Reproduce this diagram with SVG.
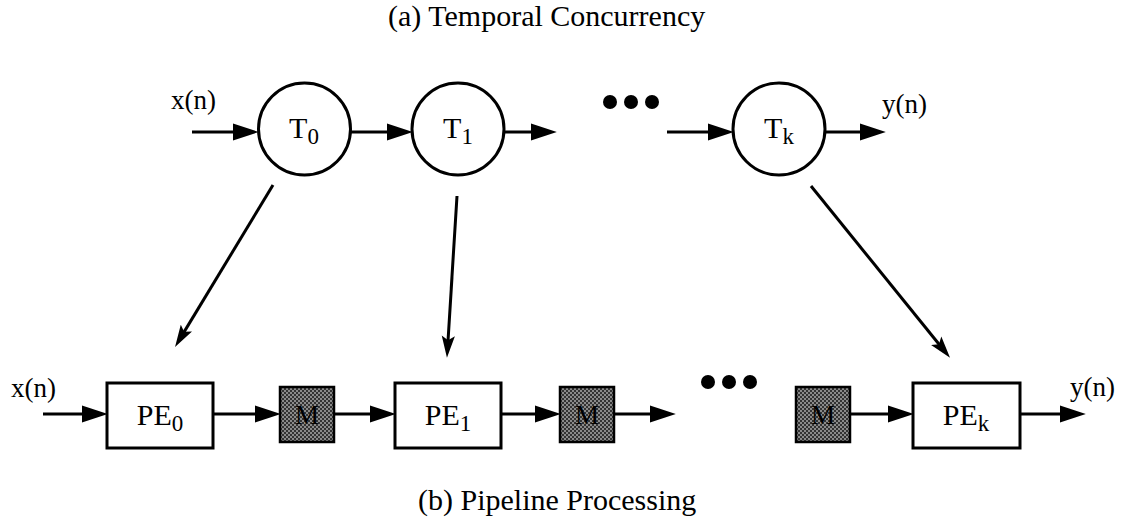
<svg xmlns="http://www.w3.org/2000/svg" width="1122" height="527" viewBox="0 0 1122 527">
<style>
text{font-family:"Liberation Serif","Times New Roman",serif;fill:#000}
.title{font-size:30px}
.lbl{font-size:27px}
.nl{font-size:30px}
.sub{font-size:23px}
.node{fill:#fff;stroke:#000;stroke-width:3}
.mem{fill:url(#stip);stroke:#000;stroke-width:2.5}
.conn line{stroke:#000;stroke-width:3;fill:none}
.h{marker-end:url(#ah)}
.d{marker-end:url(#ad);stroke-width:2.6}
.dot{fill:#000}
</style>
<defs>
<pattern id="stip" width="4" height="4" patternUnits="userSpaceOnUse">
<rect width="4" height="4" fill="#8a8a8a"/>
<rect x="0" y="0" width="2" height="2" fill="#333"/>
<rect x="2" y="2" width="2" height="2" fill="#333"/>
</pattern>
<marker id="ah" markerUnits="userSpaceOnUse" markerWidth="26" markerHeight="18" viewBox="0 0 24 16" refX="14" refY="8" orient="auto">
<path d="M0,0 L24,8 L0,16 Z" fill="#000"/>
</marker>
<marker id="ad" markerUnits="userSpaceOnUse" markerWidth="22" markerHeight="14" viewBox="0 0 20 12" refX="12" refY="6" orient="auto">
<path d="M0,0 L20,6 L0,12 L4,6 Z" fill="#000"/>
</marker>
</defs>
<rect width="1122" height="527" fill="#fff"/>
<text class="title" x="388" y="26">(a) Temporal Concurrency</text>
<text class="title" x="418" y="510">(b) Pipeline Processing</text>
<g id="connectors" class="conn">
<line class="h" x1="192" y1="132" x2="248" y2="132"/>
<line class="h" x1="351" y1="132" x2="402" y2="132"/>
<line class="h" x1="504" y1="132" x2="546" y2="132"/>
<line class="h" x1="667" y1="132" x2="723" y2="132"/>
<line class="h" x1="825" y1="132" x2="875" y2="132"/>
<line class="d" x1="273" y1="185" x2="179.6" y2="339.4"/>
<line class="d" x1="457" y1="196" x2="447.5" y2="349"/>
<line class="d" x1="811" y1="186" x2="944.5" y2="351"/>
<line class="h" x1="43" y1="414" x2="97" y2="414"/>
<line class="h" x1="213" y1="414" x2="270" y2="414"/>
<line class="h" x1="334" y1="414" x2="385" y2="414"/>
<line class="h" x1="501" y1="414" x2="550" y2="414"/>
<line class="h" x1="614" y1="414" x2="665" y2="414"/>
<line class="h" x1="850" y1="414" x2="903" y2="414"/>
<line class="h" x1="1020" y1="414" x2="1075" y2="414"/>
</g>
<g id="label-x-top"><text class="lbl" x="171" y="109">x(n)</text></g>
<g id="label-y-top"><text class="lbl" x="882" y="113">y(n)</text></g>
<g id="dots-top"><circle class="dot" cx="610" cy="102" r="7"/><circle class="dot" cx="631" cy="102" r="7"/><circle class="dot" cx="652" cy="102" r="7"/></g>
<g id="T0"><circle class="node" cx="304.5" cy="129" r="46"/><text class="nl" x="304" y="138" text-anchor="middle">T<tspan class="sub" dy="6">0</tspan></text></g>
<g id="T1"><circle class="node" cx="458" cy="129" r="46"/><text class="nl" x="458" y="138" text-anchor="middle">T<tspan class="sub" dy="6">1</tspan></text></g>
<g id="Tk"><circle class="node" cx="779" cy="129" r="46"/><text class="nl" x="779" y="138" text-anchor="middle">T<tspan class="sub" dy="6">k</tspan></text></g>
<g id="label-x-bottom"><text class="lbl" x="11" y="397">x(n)</text></g>
<g id="label-y-bottom"><text class="lbl" x="1070" y="396">y(n)</text></g>
<g id="dots-bottom"><circle class="dot" cx="708" cy="382" r="7"/><circle class="dot" cx="729" cy="382" r="7"/><circle class="dot" cx="750" cy="382" r="7"/></g>
<g id="PE0"><rect class="node" x="107" y="383" width="106" height="65"/><text class="nl" x="160" y="425" text-anchor="middle">PE<tspan class="sub" dy="6">0</tspan></text></g>
<g id="M1"><rect class="mem" x="280" y="387" width="54" height="55"/><text class="lbl" x="307" y="424" text-anchor="middle" fill="#222">M</text></g>
<g id="PE1"><rect class="node" x="395" y="383" width="106" height="65"/><text class="nl" x="448" y="425" text-anchor="middle">PE<tspan class="sub" dy="6">1</tspan></text></g>
<g id="M2"><rect class="mem" x="560" y="387" width="54" height="55"/><text class="lbl" x="587" y="424" text-anchor="middle" fill="#222">M</text></g>
<g id="M3"><rect class="mem" x="796" y="387" width="54" height="55"/><text class="lbl" x="823" y="424" text-anchor="middle" fill="#222">M</text></g>
<g id="PEk"><rect class="node" x="913" y="383" width="107" height="65"/><text class="nl" x="966" y="425" text-anchor="middle">PE<tspan class="sub" dy="6">k</tspan></text></g>
</svg>
